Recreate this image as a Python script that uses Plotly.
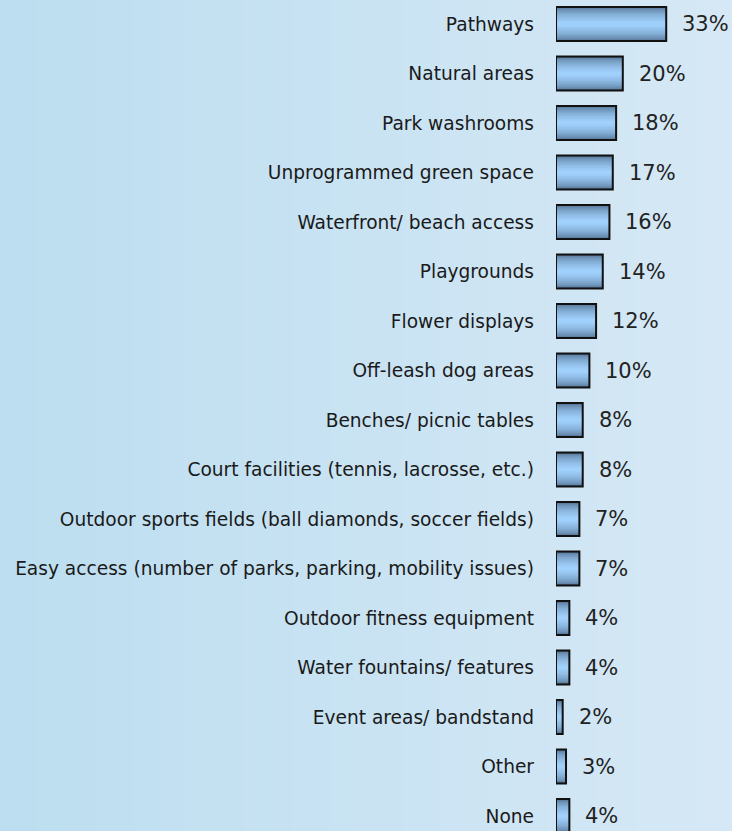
import plotly.graph_objects as go

categories = [
    "Pathways", "Natural areas", "Park washrooms", "Unprogrammed green space",
    "Waterfront/ beach access", "Playgrounds", "Flower displays", "Off-leash dog areas",
    "Benches/ picnic tables", "Court facilities (tennis, lacrosse, etc.)",
    "Outdoor sports fields (ball diamonds, soccer fields)",
    "Easy access (number of parks, parking, mobility issues)",
    "Outdoor fitness equipment", "Water fountains/ features",
    "Event areas/ bandstand", "Other", "None",
]
values = [33, 20, 18, 17, 16, 14, 12, 10, 8, 8, 7, 7, 4, 4, 2, 3, 4]
value_labels = [f"{v}%" for v in values]

W, H = 732, 831
FONT = "DejaVu Sans"

def lerp(c1, c2, t):
    return "rgb(%d,%d,%d)" % tuple(round(a + (b - a) * t) for a, b in zip(c1, c2))

fig = go.Figure()

# stepped vertical gradient inside bars via overlaid bars of decreasing thickness
outer_w = 0.69
n_layers = 14
dark = (66, 94, 124)
light = (160, 208, 252)
for k in range(n_layers):
    t = k / (n_layers - 1)
    w = outer_w * (1 - 0.9 * t)
    col = lerp(dark, light, t ** 0.45)
    fig.add_trace(go.Bar(
        x=values, y=categories, orientation="h", width=w,
        marker=dict(color=col, line=dict(width=0)),
        hoverinfo="skip", showlegend=False,
    ))
# outline
fig.add_trace(go.Bar(
    x=values, y=categories, orientation="h", width=outer_w,
    marker=dict(color="rgba(0,0,0,0)", line=dict(color="#111111", width=2)),
    showlegend=False,
))

for c, v, lab in zip(categories, values, value_labels):
    fig.add_annotation(x=v, y=c, text=lab, xanchor="left", yanchor="middle",
                       xshift=14, showarrow=False,
                       font=dict(family=FONT, size=21, color="#222222"))

# background horizontal gradient
shapes = []
n = 60
left = (188, 222, 240)
right = (214, 232, 245)
for i in range(n):
    shapes.append(dict(type="rect", xref="paper", yref="paper",
                       x0=i / n, x1=(i + 1) / n + 0.002, y0=0, y1=1,
                       fillcolor=lerp(left, right, i / (n - 1)),
                       line=dict(width=0), layer="below"))

row = 49.5
top = 24
y_lo = -top / row
y_hi = (H - top) / row

fig.update_layout(
    width=W, height=H,
    margin=dict(l=0, r=0, t=0, b=0),
    barmode="overlay",
    paper_bgcolor="rgb(200,226,242)",
    plot_bgcolor="rgba(0,0,0,0)",
    shapes=shapes,
    showlegend=False,
    xaxis=dict(domain=[556 / W, 1], range=[0, (W - 556) / 3.34],
               showgrid=False, zeroline=False, showticklabels=False,
               showline=False, fixedrange=True),
    yaxis=dict(domain=[0, 1], type="category",
               categoryorder="array", categoryarray=categories,
               range=[y_hi, y_lo], showgrid=False, zeroline=False,
               showline=False, ticks="", ticklabelstandoff=21,
               tickfont=dict(family=FONT, size=18.6, color="#1a1a1a"),
               automargin=False),
)

fig.write_html("out.html", config={"displayModeBar": False},
               post_script="document.body.style.margin='0';document.body.style.overflow='hidden';")
